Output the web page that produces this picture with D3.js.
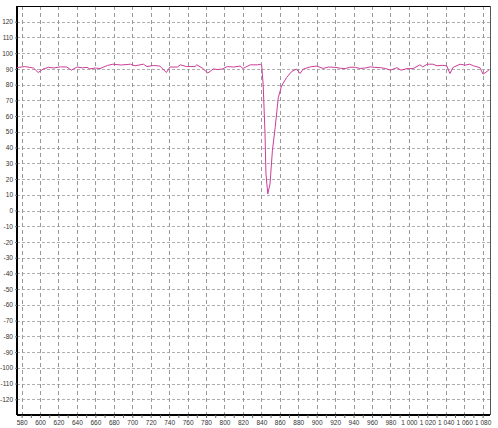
<!DOCTYPE html>
<html>
<head>
<meta charset="utf-8">
<script src="https://cdn.jsdelivr.net/npm/d3@7"></script>
<style>
  body { margin: 0; background: #fff; }
  svg { display: block; font-family: "Liberation Sans", Arial, sans-serif; }
</style>
</head>
<body>
<div id="chart"></div>
<script>
const X_DOMAIN = [575, 1088];
const Y_DOMAIN = [-130, 130];
const X_TICKS = d3.range(580, 1081, 20);
const Y_TICKS = d3.range(-120, 121, 10);

const wavelength = [
  575, 583, 589, 593, 598, 603, 609, 615, 622, 629, 634, 640, 646, 651, 654, 660, 665, 673, 679, 688, 698,
  703, 712, 716, 723, 730, 737, 741, 749, 752, 759, 768, 770, 776, 782, 788, 793, 798, 803,
  810, 817, 820, 828, 836, 839, 840.4, 842, 844, 845, 847, 849.4, 852, 855, 858.4, 862,
  867.5, 873, 878, 882, 885.5, 893, 900, 907, 913, 920, 926, 931, 936, 942, 947, 952, 958, 963, 969, 975, 980,
  987, 991.5, 998, 1004.5, 1012, 1015, 1020, 1026, 1030.5, 1036, 1041, 1044.6, 1048,
  1055.5, 1061, 1066, 1070, 1077, 1080.5, 1085, 1087,
];
const value = [
  90.8, 91.5, 91, 90.5, 87.7, 89.8, 91, 90.6, 91.3, 91.2, 89.2, 91.2, 90.7, 91, 90, 90.6, 90.2, 92.2, 93, 92.5, 93,
  92, 93, 91.5, 92.2, 91.8, 87.7, 91.2, 91.2, 92.6, 91.5, 91.5, 92.6, 90.5, 87.4, 90, 89.6, 90, 91.5,
  91.2, 91.8, 90.3, 92.6, 92.6, 93, 92, 80, 48.8, 23.5, 10.6, 16.8, 38, 52.8, 71.8, 79.3,
  84.6, 88.4, 89.9, 87.1, 89.9, 91.3, 91.8, 90.3, 91.2, 91, 90.4, 90.2, 91.1, 91, 90.3, 90.5, 91.3, 91, 90.8, 90.2, 89.2,
  90.8, 89.2, 90.2, 90.2, 92.6, 91.3, 93, 93, 92, 92.3, 92, 87.1, 91,
  93, 92.4, 93, 92, 90.8, 86.7, 88.5, 89.5,
];

const width = 498;
const height = 428;
const plot = { left: 17, right: 490, top: 6, bottom: 415 };

const x = d3.scaleLinear().domain(X_DOMAIN).range([plot.left, plot.right]);
const y = d3.scaleLinear().domain(Y_DOMAIN).range([plot.bottom, plot.top]);

const svg = d3
  .select("#chart")
  .append("svg")
  .attr("width", width)
  .attr("height", height);

const fmt = (d) => (d >= 1000 ? d3.format(",")(d).replace(",", " ") : String(d));

// grid
svg
  .append("g")
  .selectAll("line")
  .data(Y_TICKS)
  .join("line")
  .attr("x1", plot.left)
  .attr("x2", plot.right)
  .attr("y1", (d) => Math.round(y(d)) + 0.5)
  .attr("y2", (d) => Math.round(y(d)) + 0.5)
  .attr("stroke", "#b0b0b0")
  .attr("stroke-dasharray", "3,2");

svg
  .append("g")
  .selectAll("line")
  .data(X_TICKS)
  .join("line")
  .attr("x1", (d) => Math.round(x(d)) + 0.5)
  .attr("x2", (d) => Math.round(x(d)) + 0.5)
  .attr("y1", plot.top)
  .attr("y2", plot.bottom)
  .attr("stroke", "#999")
  .attr("stroke-dasharray", "4,3");

// frame
svg
  .append("line")
  .attr("x1", plot.left)
  .attr("x2", plot.right)
  .attr("y1", plot.top + 0.5)
  .attr("y2", plot.top + 0.5)
  .attr("stroke", "#000");
svg
  .append("line")
  .attr("x1", plot.right + 0.5)
  .attr("x2", plot.right + 0.5)
  .attr("y1", plot.top)
  .attr("y2", plot.bottom)
  .attr("stroke", "#555");

// axes
const xAxis = svg
  .append("g")
  .attr("transform", `translate(0,${plot.bottom})`)
  .call(
    d3.axisBottom(x).tickValues(d3.range(580, 1088, 10)).tickSize(3).tickFormat((d) =>
      d % 20 === 0 ? fmt(d) : "",
    ),
  );
xAxis.select(".domain").attr("stroke", "#000").attr("stroke-width", 2).attr("d", `M${plot.left},0H${plot.right}`);
xAxis.selectAll("text").attr("font-size", 6.5).attr("fill", "#333").attr("dy", "0.6em");
xAxis.selectAll(".tick line").attr("stroke", "#666");

const yAxis = svg
  .append("g")
  .attr("transform", `translate(${plot.left},0)`)
  .call(d3.axisLeft(y).tickValues(Y_TICKS).tickSize(2).tickPadding(2).tickFormat(fmt));
yAxis.select(".domain").attr("stroke", "#000").attr("stroke-width", 2).attr("d", `M0,${plot.top}V${plot.bottom}`);
yAxis.selectAll("text").attr("font-size", 6.5).attr("fill", "#333");
yAxis.selectAll(".tick line").attr("stroke", "#777");

// series
const points = wavelength.map((w, i) => [w, value[i]]);
svg
  .append("path")
  .datum(points)
  .attr("fill", "none")
  .attr("stroke", "#cc3d99")
  .attr("stroke-width", 1)
  .attr("d", d3.line().x((d) => x(d[0])).y((d) => y(d[1])));
</script>
</body>
</html>
